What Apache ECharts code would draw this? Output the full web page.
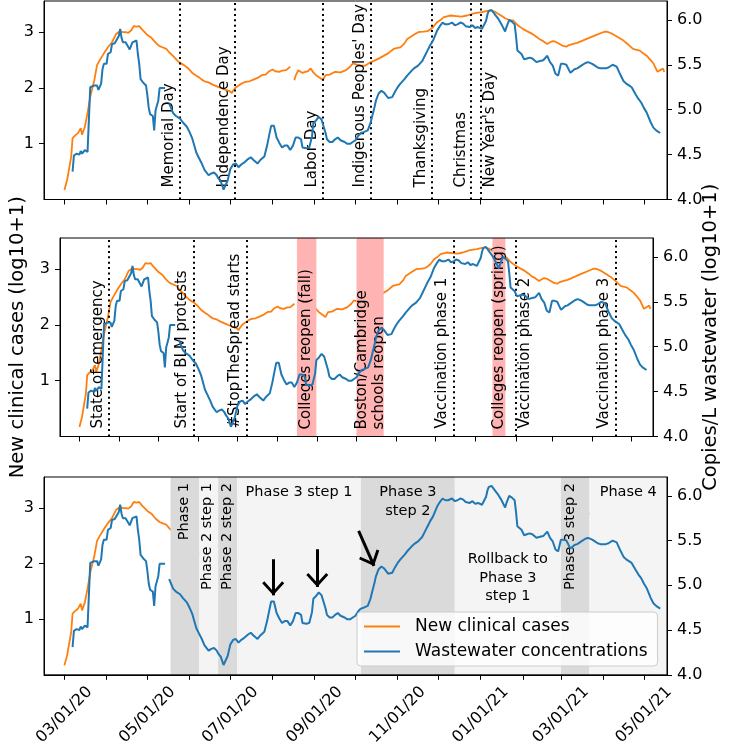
<!DOCTYPE html>
<html><head><meta charset="utf-8">
<script src="https://cdn.jsdelivr.net/npm/echarts@6/dist/echarts.min.js"></script>
<style>html,body{margin:0;padding:0;background:#fff}#c{width:729px;height:748px}</style>
</head><body><div id="c"></div>
<script>
// ---- data (day offsets counted from 2020-03-01) ----
const cases = [[0,0.17],[2,0.35],[5,0.77],[6,1.10],[8,1.15],[10,1.19],[12,1.28],[13,1.16],[15,1.30],[17,1.55],[19,1.84],[22,2.14],[24,2.41],[26,2.50],[28,2.58],[30,2.66],[32,2.73],[35,2.82],[38,2.97],[41,3.02],[43,3.00],[45,3.00],[47,2.99],[49,3.03],[51,3.11],[53,3.10],[55,3.11],[57,3.05],[59,3.00],[61,2.95],[64,2.90],[66,2.84],[68,2.79],[70,2.75],[72,2.73],[75,2.70],[77,2.64],[80,2.57],[83,2.49],[85,2.45],[88,2.41],[91,2.35],[94,2.27],[97,2.22],[99,2.19],[101,2.15],[103,2.12],[106,2.10],[109,2.06],[113,2.02],[116,1.99],[118,1.97],[121,1.95],[123,1.91],[124,1.95],[126,2.01],[129,2.06],[131,2.09],[133,2.11],[136,2.12],[139,2.15],[142,2.18],[145,2.23],[148,2.24],[150,2.29],[153,2.33],[155,2.30],[158,2.29],[160,2.31],[163,2.32],[166,2.38],[167,null],[169,2.14],[170,2.22],[172,2.32],[175,2.27],[177,2.29],[179,2.30],[181,2.35],[183,2.28],[185,2.23],[188,2.18],[190,2.14],[192,2.23],[195,2.24],[199,2.29],[203,2.28],[207,2.32],[210,2.38],[212,2.44],[215,2.42],[218,2.40],[221,2.40],[225,2.46],[228,2.49],[232,2.54],[235,2.58],[238,2.62],[242,2.70],[245,2.72],[247,2.73],[250,2.80],[252,2.88],[256,2.94],[260,3.00],[264,3.01],[267,3.02],[269,3.05],[271,3.09],[274,3.18],[277,3.23],[279,3.27],[282,3.29],[284,3.30],[288,3.29],[292,3.28],[296,3.30],[299,3.32],[301,3.34],[304,3.35],[307,3.36],[310,3.38],[314,3.39],[317,3.36],[321,3.30],[324,3.25],[328,3.21],[330,3.21],[333,3.13],[337,3.06],[340,3.02],[344,2.97],[347,2.92],[349,2.88],[352,2.84],[355,2.79],[357,2.82],[359,2.84],[361,2.83],[364,2.79],[366,2.76],[369,2.74],[371,2.77],[374,2.79],[377,2.81],[381,2.85],[384,2.88],[388,2.92],[392,2.96],[396,3.00],[398,3.01],[400,3.00],[403,2.97],[407,2.91],[411,2.85],[414,2.79],[418,2.70],[420,2.69],[423,2.67],[425,2.63],[428,2.58],[431,2.50],[433,2.44],[436,2.29],[438,2.32],[440,2.35],[441,2.29]];

const wastewater = [[6,4.31],[7,4.49],[9,4.51],[10,4.51],[11,4.50],[12,4.54],[13,4.51],[15,4.55],[17,4.53],[18,4.53],[19,5.25],[22,5.27],[24,5.27],[25,5.22],[26,5.21],[27,5.29],[28,5.45],[29,5.51],[31,5.51],[32,5.62],[34,5.64],[35,5.73],[37,5.74],[38,5.75],[40,5.82],[41,5.90],[42,5.80],[43,5.75],[45,5.75],[46,5.73],[48,5.67],[50,5.75],[51,5.77],[53,5.77],[54,5.62],[55,5.51],[56,5.34],[58,5.30],[60,5.27],[61,5.16],[62,5.02],[63,4.95],[65,4.93],[66,4.77],[67,4.99],[69,5.10],[70,5.24],[74,5.24],[75,null],[77,5.07],[80,4.96],[82,4.93],[85,4.90],[87,4.86],[90,4.81],[92,4.75],[94,4.68],[97,4.52],[99,4.46],[101,4.40],[103,4.33],[106,4.27],[108,4.29],[110,4.30],[112,4.27],[113,4.24],[115,4.20],[117,4.11],[118,4.13],[120,4.21],[122,4.34],[124,4.39],[126,4.40],[128,4.36],[130,4.39],[132,4.41],[135,4.45],[137,4.47],[139,4.44],[142,4.40],[144,4.44],[147,4.48],[149,4.60],[151,4.75],[152,4.82],[154,4.82],[156,4.69],[158,4.63],[160,4.58],[162,4.60],[164,4.60],[166,4.55],[168,4.60],[170,4.69],[172,4.69],[174,4.67],[175,4.58],[178,4.57],[180,4.58],[182,4.70],[183,4.85],[185,4.88],[187,4.92],[189,4.89],[190,4.87],[192,4.74],[193,4.67],[195,4.64],[197,4.64],[199,4.67],[201,4.69],[203,4.66],[206,4.64],[208,4.62],[210,4.62],[212,4.64],[214,4.66],[216,4.71],[218,4.74],[220,4.75],[223,4.77],[225,4.85],[226,4.91],[228,5.03],[229,5.10],[231,5.18],[233,5.21],[235,5.19],[236,5.17],[238,5.13],[239,5.12],[241,5.14],[243,5.20],[245,5.25],[247,5.29],[250,5.34],[252,5.38],[255,5.43],[257,5.46],[260,5.49],[263,5.54],[265,5.60],[267,5.66],[269,5.72],[271,5.77],[274,5.88],[276,5.93],[278,5.97],[280,5.95],[282,5.95],[285,5.97],[287,5.94],[289,5.95],[291,5.97],[293,5.96],[295,5.93],[296,5.91],[298,5.92],[300,5.94],[302,5.91],[304,5.92],[307,5.90],[308,5.92],[310,5.99],[311,6.06],[312,6.10],[314,6.11],[315,6.10],[317,6.05],[319,6.01],[321,5.96],[322,5.93],[324,5.87],[325,5.92],[327,6.00],[329,5.98],[331,5.95],[332,5.82],[333,5.66],[336,5.62],[338,5.56],[340,5.57],[342,5.58],[344,5.57],[347,5.53],[349,5.54],[352,5.55],[355,5.60],[357,5.53],[359,5.49],[361,5.40],[363,5.38],[365,5.51],[367,5.51],[369,5.50],[372,5.41],[375,5.45],[377,5.46],[380,5.49],[383,5.52],[385,5.53],[388,5.51],[390,5.49],[392,5.47],[394,5.46],[396,5.46],[398,5.46],[400,5.47],[403,5.50],[406,5.48],[409,5.38],[411,5.32],[413,5.29],[415,5.27],[417,5.25],[420,5.17],[422,5.12],[424,5.08],[426,5.02],[428,4.97],[431,4.86],[433,4.80],[435,4.77],[438,4.74]];

const xMinDate = '2020-02-15', xMaxDate = '2021-05-18';
const xTickDates = ['2020-03-01','2020-05-01','2020-07-01','2020-09-01','2020-11-01','2021-01-01','2021-03-01','2021-05-01'];
const xTickLabels = ['03/01/20','05/01/20','07/01/20','09/01/20','11/01/20','01/01/21','03/01/21','05/01/21'];
const monthTickDates = ['2020-03-01','2020-04-01','2020-05-01','2020-06-01','2020-07-01','2020-08-01','2020-09-01','2020-10-01','2020-11-01','2020-12-01','2021-01-01','2021-02-01','2021-03-01','2021-04-01','2021-05-01'];
const leftTicks = [1, 2, 3];
const rightTicks = [4.0, 4.5, 5.0, 5.5, 6.0];

const holidays = [['2020-05-25','Memorial Day'],['2020-07-04','Independence Day'],['2020-09-07','Labor Day'],['2020-10-12',"Indigenous Peoples' Day"],['2020-11-26','Thanksgiving'],['2020-12-25','Christmas'],['2021-01-01',"New Year's Day"]];
const policyEvents = [['2020-03-24','State of emergency'],['2020-05-28','Start of BLM protests'],['2020-07-08','#StopTheSpread starts'],['2020-12-15','Vaccination phase 1'],['2021-02-01','Vaccination phase 2'],['2021-04-19','Vaccination phase 3']];
const reopenBands = [['2020-08-16','2020-08-31'],['2020-10-01','2020-10-22'],['2021-01-14','2021-01-24']];
const reopenLabels = [['2020-08-23','Colleges reopen (fall)'],['2020-10-12','Boston/Cambridge\nschools reopen'],['2021-01-19','Colleges reopen (spring)']];
const phaseBands = [['2020-05-18','2020-06-08','dark',''],['2020-06-08','2020-06-22','light',''],['2020-06-22','2020-07-06','dark',''],['2020-07-06','2020-10-05','light','Phase 3 step 1'],['2020-10-05','2020-12-13','dark','Phase 3\nstep 2'],['2020-12-13','2021-03-01','light','Rollback to\nPhase 3\nstep 1'],['2021-03-01','2021-03-22','dark',''],['2021-03-22','2021-05-18','light','Phase 4']];
const phaseVertLabels = [['2020-05-28','Phase 1'],['2020-06-14','Phase 2 step 1'],['2020-06-29','Phase 2 step 2'],['2021-03-08','Phase 3 step 2']];
const arrows = [[153.5,2.08,153.5,1.43],[185.9,2.26,185.9,1.58],[216.3,2.59,227.6,1.96]];

// ---- helpers ----
const BASE = Date.UTC(2020, 2, 1);
const day = n => BASE + n * 86400000;
const dt = s => { const p = s.split('-'); return Date.UTC(+p[0], +p[1] - 1, +p[2]); };
const toSeries = arr => arr.map(p => [day(p[0]), p[1]]);
const xTickTimes = xTickDates.map(dt);
const FONT = 'DejaVu Sans';
const ORANGE = '#ff7f0e', BLUE = '#1f77b4';
const labelsRightOfLine = ["New Year's Day", 'Vaccination phase 2'];

const grids = [1, 238, 477].map(t => ({left: 44, right: 62, top: t, height: 198.5, show: true, borderColor: '#000', borderWidth: 1, z: 10}));

const xAxes = [0, 1, 2].map(i => ({
  type: 'value', gridIndex: i, min: dt(xMinDate), max: dt(xMaxDate), z: 10,
  axisLine: {show: true, lineStyle: {color: '#000', width: 1}},
  axisTick: {show: true, length: 5, customValues: monthTickDates.map(dt), lineStyle: {color: '#000', width: 1}},
  axisLabel: {show: i === 2, customValues: xTickTimes, rotate: 45, align: 'center', verticalAlign: 'middle', margin: 40,
    fontSize: 16, color: '#000', fontFamily: FONT,
    formatter: v => { for (let k = 0; k < xTickTimes.length; k++) if (Math.abs(xTickTimes[k] - v) < 43200000) return xTickLabels[k]; return ''; }},
  splitLine: {show: false}
}));

const yAxes = [];
[0, 1, 2].forEach(i => {
  yAxes.push({
    type: 'value', gridIndex: i, position: 'left', min: 0, max: 3.56, z: 10,
    axisLine: {show: true, lineStyle: {color: '#000', width: 1}},
    axisTick: {show: true, length: 5, customValues: leftTicks, lineStyle: {color: '#000'}},
    axisLabel: {customValues: leftTicks, fontSize: 16, color: '#000', margin: 10, fontFamily: FONT},
    splitLine: {show: false},
    name: i === 1 ? 'New clinical cases (log10+1)' : '', nameLocation: 'middle', nameGap: 32,
    nameTextStyle: {fontSize: 19.5, color: '#000', fontFamily: FONT}
  });
  yAxes.push({
    type: 'value', gridIndex: i, position: 'right', min: 4, max: 6.21, z: 10,
    axisLine: {show: true, lineStyle: {color: '#000', width: 1}},
    axisTick: {show: true, length: 5, customValues: rightTicks, lineStyle: {color: '#000'}},
    axisLabel: {customValues: rightTicks, fontSize: 16, color: '#000', margin: 10, fontFamily: FONT, formatter: v => v.toFixed(1)},
    splitLine: {show: false},
    name: i === 1 ? 'Copies/L wastewater (log10+1)' : '', nameLocation: 'middle', nameGap: 48,
    nameTextStyle: {fontSize: 19.5, color: '#000', fontFamily: FONT}
  });
});

const labelBase = {show: true, formatter: '{b}', fontSize: 15, color: '#000', fontFamily: FONT};
const dotted = {color: '#000', type: [2, 3.4], width: 2};
const hidden = {color: 'rgba(0,0,0,0)', width: 0.01, type: 'solid'};
const eventItem = (e, along) => {
  const item = {xAxis: dt(e[0]), name: e[1]};
  if (labelsRightOfLine.indexOf(e[1]) >= 0) item.label = {position: 'insideStartBottom', distance: [along, 2]};
  return item;
};

const series = [];
[0, 1, 2].forEach(i => {
  series.push({name: 'New clinical cases', type: 'line', xAxisIndex: i, yAxisIndex: 2 * i, data: toSeries(cases),
    showSymbol: false, color: ORANGE, lineStyle: {color: ORANGE, width: 1.8}, z: 1, silent: true, animation: false});
  series.push({name: 'Wastewater concentrations', type: 'line', xAxisIndex: i, yAxisIndex: 2 * i + 1, data: toSeries(wastewater),
    showSymbol: false, color: BLUE, lineStyle: {color: BLUE, width: 2}, z: 4, silent: true, animation: false});
});

series.push({name: 'holidays', type: 'line', xAxisIndex: 0, yAxisIndex: 0, data: [], silent: true, animation: false,
  markLine: {silent: true, animation: false, z: 3, symbol: ['none', 'none'], lineStyle: dotted,
    label: Object.assign({}, labelBase, {position: 'insideStartTop', distance: [12, 3]}),
    data: holidays.map(h => eventItem(h, 12))}});

series.push({name: 'events', type: 'line', xAxisIndex: 1, yAxisIndex: 2, data: [], silent: true, animation: false,
  markArea: {silent: true, animation: false, z: 2, itemStyle: {color: '#ffb3b3'}, label: {show: false},
    data: reopenBands.map(b => [{xAxis: dt(b[0])}, {xAxis: dt(b[1])}])},
  markLine: {silent: true, animation: false, z: 3, symbol: ['none', 'none'], lineStyle: dotted,
    label: Object.assign({}, labelBase, {position: 'insideStartTop', distance: [8, 4]}),
    data: policyEvents.map(e => eventItem(e, 8)).concat(
      reopenLabels.map(e => ({xAxis: dt(e[0]), name: e[1], lineStyle: hidden,
        label: {position: 'insideStart', distance: [7, 0], lineHeight: 17}})))}});

series.push({name: 'phases', type: 'line', xAxisIndex: 2, yAxisIndex: 4, data: [], silent: true, animation: false,
  markArea: {silent: true, animation: false, z: 2,
    label: Object.assign({}, labelBase, {fontSize: 14.5, position: 'insideTop', distance: 6, lineHeight: 18.5}),
    data: phaseBands.map(b => [{xAxis: dt(b[0]), name: b[3],
      itemStyle: {color: b[2] === 'dark' ? '#dadada' : '#f4f4f4'},
      label: b[3] === '' ? {show: false} : (b[3].indexOf('Rollback') === 0 ? {position: 'inside', offset: [0, 2]} : {})},
      {xAxis: dt(b[1])}])},
  markLine: {silent: true, animation: false, z: 3, symbol: ['none', 'none'], lineStyle: hidden,
    label: Object.assign({}, labelBase, {fontSize: 14.5, position: 'insideEnd', distance: [6, 0]}),
    data: phaseVertLabels.map(e => ({xAxis: dt(e[0]), name: e[1]}))}});

const chevron = 'path://M11,14 L22,26 L19.9,28 L11,18.2 L2.1,28 L0,26 Z M11,0 L11.1,0 L11.1,0.1 Z';
series.push({name: 'arrows', type: 'line', xAxisIndex: 2, yAxisIndex: 4, data: [], silent: true, animation: false,
  markLine: {silent: true, animation: false, z: 6, symbol: ['none', chevron], symbolSize: [22, 28],
    lineStyle: {color: '#000', width: 3, type: 'solid'}, label: {show: false},
    data: arrows.map(a => [{coord: [day(a[0]), a[1]]}, {coord: [day(a[2]), a[3]]}])}});

const chart = echarts.init(document.getElementById('c'), null, {renderer: 'canvas'});
chart.setOption({
  animation: false,
  textStyle: {fontFamily: FONT},
  grid: grids, xAxis: xAxes, yAxis: yAxes, series: series,
  legend: {
    data: [{name: 'New clinical cases', icon: 'rect'}, {name: 'Wastewater concentrations', icon: 'rect'}],
    orient: 'vertical', left: 357, top: 612, itemWidth: 36, itemHeight: 2, itemGap: 8,
    padding: [6, 10, 6, 7], backgroundColor: 'rgba(255,255,255,0.8)', borderColor: '#cccccc', borderWidth: 1, borderRadius: 4,
    textStyle: {fontSize: 17, color: '#000', fontFamily: FONT, padding: [0, 0, 0, 10]}, z: 20, selectedMode: false
  }
});
</script></body></html>
